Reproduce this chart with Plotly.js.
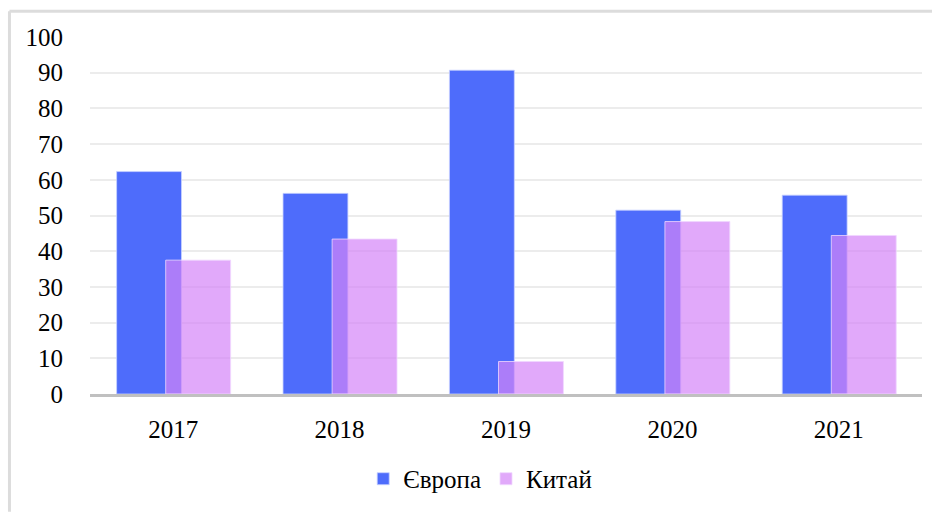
<!DOCTYPE html>
<html>
<head>
<meta charset="utf-8">
<script src="https://cdn.plot.ly/plotly-3.0.1.min.js"></script>
<style>
html,body{margin:0;padding:0;background:#fff;overflow:hidden;font-family:'Times New Roman';}
</style>
</head>
<body>
<div id="chart" style="width:932px;height:512px"></div>
<script>
const years = ['2017', '2018', '2019', '2020', '2021'];
const europe = [62.3, 56.2, 90.7, 51.5, 55.7];
const china = [37.5, 43.4, 9.1, 48.3, 44.4];
const seriesNames = ['Європа', 'Китай'];
const yTicks = [0, 10, 20, 30, 40, 50, 60, 70, 80, 90, 100];

const traces = [
  {
    type: 'bar', name: seriesNames[0], x: years, y: europe,
    width: 0.39, offset: -0.34,
    marker: {color: '#4e6cfb', line: {color: 'rgba(200,210,255,0.8)', width: 1}}
  },
  {
    type: 'bar', name: seriesNames[1], x: years, y: china,
    width: 0.39, offset: -0.045,
    marker: {color: 'rgba(212,132,248,0.7)', line: {color: 'rgba(240,215,255,0.8)', width: 1}}
  }
];

const layout = {
  width: 932, height: 512,
  margin: {l: 90, r: 10, t: 37, b: 116, pad: 0},
  paper_bgcolor: '#fff', plot_bgcolor: '#fff',
  barmode: 'overlay',
  font: {family: 'Times New Roman', size: 25, color: '#000'},
  showlegend: true,
  legend: {
    orientation: 'h', x: 0.469, xanchor: 'center', y: -0.238, yanchor: 'middle',
    itemwidth: 30, traceorder: 'normal'
  },
  xaxis: {
    type: 'category', showgrid: false, zeroline: false,
    showline: true, linecolor: '#c0c0c0', linewidth: 3,
    ticks: 'outside', ticklen: 11, tickcolor: 'rgba(0,0,0,0)'
  },
  yaxis: {
    range: [0, 100], tickvals: yTicks, ticktext: yTicks.map(String),
    showgrid: true, gridcolor: '#ececec', gridwidth: 2,
    zeroline: false, showline: false,
    ticks: 'outside', ticklen: 21, tickcolor: 'rgba(0,0,0,0)'
  },
  shapes: [
    {type: 'line', xref: 'paper', yref: 'paper', x0: -0.0968, x1: -0.0968, y0: 1.072, y1: -0.33, line: {color: '#dcdcdc', width: 3}},
    {type: 'line', xref: 'paper', yref: 'paper', x0: -0.0968, x1: 1.02, y0: 1.072, y1: 1.072, line: {color: '#dcdcdc', width: 3}}
  ]
};

Plotly.newPlot('chart', traces, layout, {displayModeBar: false, staticPlot: true});
</script>
</body>
</html>
